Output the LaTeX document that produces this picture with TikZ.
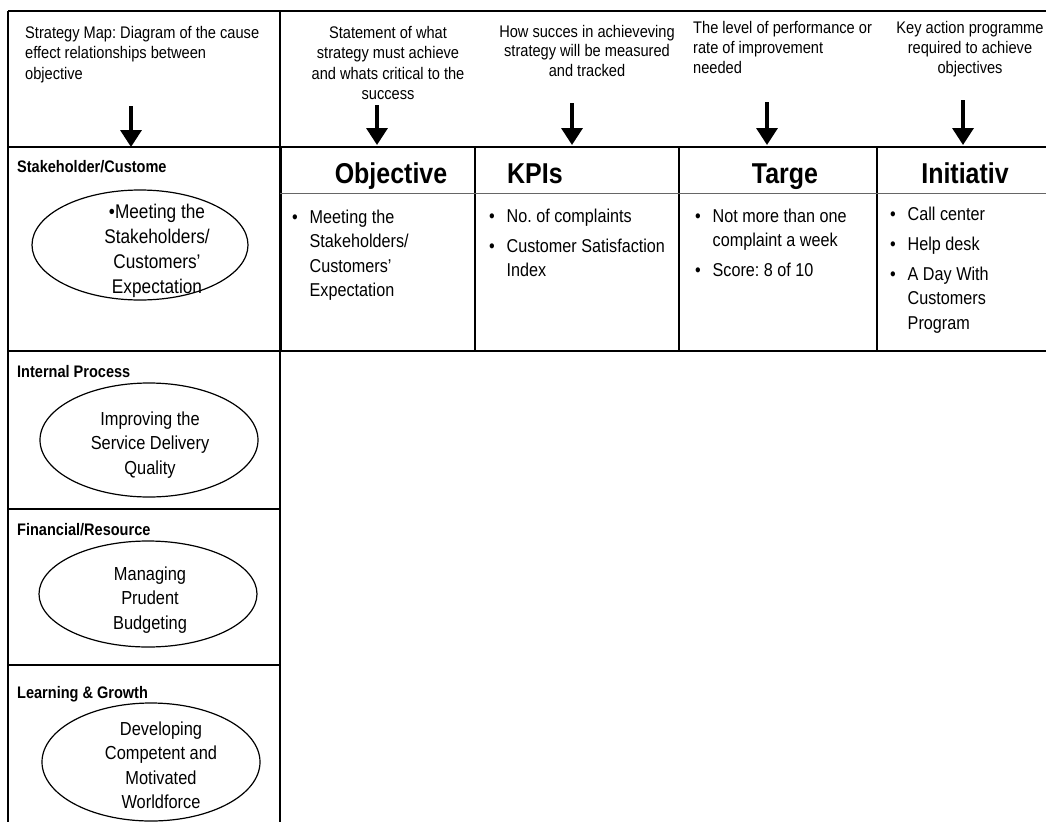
\documentclass[tikz,border=0pt]{standalone}
\usepackage{fontspec}
\setmainfont{Liberation Sans}[FakeStretch=0.87]
\usetikzlibrary{arrows.meta,shapes.geometric}
\frenchspacing
\newcommand{\hdrfont}{\fontsize{16.8}{20.5}\selectfont}
\newcommand{\bodyfont}{\fontsize{18.6}{24.5}\selectfont}
\newcommand{\ellfont}{\fontsize{18.85}{24.5}\selectfont}
\newcommand{\lblfont}{\bfseries\fontsize{16.7}{20}\selectfont}
\newcommand{\ttlfont}{\bfseries\fontsize{28.7}{30}\selectfont}
\newcommand{\bl}{\makebox[17.5pt][l]{•}}
\newcommand{\ltab}[1]{\begin{tabular}[t]{@{}l@{}}#1\end{tabular}}
\newcommand{\ctab}[1]{\begin{tabular}[t]{@{}c@{}}#1\end{tabular}}
\newcommand{\btab}[1]{\begin{tabular}[t]{@{}l@{}l@{}}#1\end{tabular}}
\begin{document}
\begin{tikzpicture}[x=1pt,y=-1pt,
  grid/.style={line width=1.6pt,black},
  thickgrid/.style={line width=3pt,black},
  sepline/.style={line width=0.9pt,black!60},
  ell/.style={ellipse,draw,line width=1.2pt,inner sep=0pt},
  hdr/.style={inner sep=0pt,font=\hdrfont},
  lbl/.style={inner sep=0pt,anchor=base west,font=\lblfont},
  ttl/.style={inner sep=0pt,anchor=base,font=\ttlfont},
  celltext/.style={inner sep=0pt,anchor=base west,font=\bodyfont},
  elltext/.style={inner sep=0pt,anchor=base,font=\ellfont},
  arr/.style={line width=3.5pt,-{Triangle[width=21pt,length=17pt]}}]
\useasboundingbox (0,0) rectangle (1046,822);
\fill[white] (0,0) rectangle (1046,822);

% grid lines
\draw[grid] (8,11) -- (1046,11);
\draw[grid] (8,11) -- (8,822);
\draw[grid] (280,11) -- (280,147);
\draw[grid] (8,147) -- (1046,147);
\draw[thickgrid] (280,147) -- (280,351);
\draw[grid] (280,351) -- (280,822);
\draw[grid] (8,351) -- (1046,351);
\draw[grid] (8,509) -- (280,509);
\draw[grid] (8,665) -- (280,665);
\draw[grid] (475,147) -- (475,351);
\draw[grid] (679,147) -- (679,351);
\draw[grid] (877,147) -- (877,351);
\draw[sepline] (280,193) -- (1046,193);

% header texts
\node[hdr,anchor=base west] (h0) at (25,38)
  {\ltab{Strategy Map: Diagram of the cause\\effect relationships between\\objective}};
\node[hdr,anchor=base] (h1) at (388,38)
  {\ctab{Statement of what\\strategy must achieve\\and whats critical to the\\success}};
\node[hdr,anchor=base,font=\fontsize{16.8}{19.5}\selectfont] (h2) at (587,37)
  {\ctab{How succes in achieveving\\strategy will be measured\\and tracked}};
\node[hdr,anchor=base west,font=\fontsize{16.8}{20}\selectfont] (h3) at (693,33)
  {\ltab{The level of performance or\\rate of improvement\\needed}};
\node[hdr,anchor=base,font=\fontsize{16.8}{20}\selectfont] (h4) at (970,33)
  {\ctab{Key action programme\\required to achieve\\objectives}};

% arrows
\coordinate (a0s) at (131,106); \coordinate (a0e) at (131,147);
\coordinate (a1s) at (377,105); \coordinate (a1e) at (377,145);
\coordinate (a2s) at (572,103); \coordinate (a2e) at (572,145);
\coordinate (a3s) at (767,102); \coordinate (a3e) at (767,145);
\coordinate (a4s) at (963,100); \coordinate (a4e) at (963,145);
\draw[arr] (a0s) -- (a0e);
\draw[arr] (a1s) -- (a1e);
\draw[arr] (a2s) -- (a2e);
\draw[arr] (a3s) -- (a3e);
\draw[arr] (a4s) -- (a4e);

% titles
\node[ttl] (t1) at (391,183) {Objective};
\node[ttl,anchor=base west] (t2) at (507,183) {KPIs};
\node[ttl] (t3) at (785,183) {Targe};
\node[ttl] (t4) at (965,183) {Initiativ};

% row labels
\node[lbl] (l1) at (17,172) {Stakeholder/Custome};
\node[lbl] (l2) at (17,377) {Internal Process};
\node[lbl] (l3) at (17,535) {Financial/Resource};
\node[lbl] (l4) at (17,698) {Learning \& Growth};

% ellipses
\node[ell,minimum width=216pt,minimum height=110pt] (e1) at (140,245) {};
\node[ell,minimum width=218pt,minimum height=114pt] (e2) at (149,440) {};
\node[ell,minimum width=218pt,minimum height=106pt] (e3) at (148,594) {};
\node[ell,minimum width=218pt,minimum height=118pt] (e4) at (151,762) {};
\node[elltext,font=\fontsize{19.8}{25}\selectfont] (e1t) at (157,218) {\ctab{•Meeting the\\Stakeholders/\\Customers'\\Expectation}};
\node[elltext] (e2t) at (150,425) {\ctab{Improving the\\Service Delivery\\Quality}};
\node[elltext] (e3t) at (150,580) {\ctab{Managing\\Prudent\\Budgeting}};
\node[elltext] (e4t) at (161,735) {\ctab{Developing\\Competent and\\Motivated\\Worldforce}};

% cell contents
\node[celltext] (c1) at (292,223) {\btab{\bl & Meeting the\\ & Stakeholders/\\ & Customers'\\ & Expectation}};
\node[celltext] (c2) at (489,222) {\btab{\bl & No. of complaints\\[5.5pt] \bl & Customer Satisfaction\\ & Index}};
\node[celltext] (c3) at (695,222) {\btab{\bl & Not more than one\\ & complaint a week\\[5.5pt] \bl & Score: 8 of 10}};
\node[celltext] (c4) at (890,220) {\btab{\bl & Call center\\[5.5pt] \bl & Help desk\\[5.5pt] \bl & A Day With\\ & Customers\\ & Program}};
\end{tikzpicture}
\end{document}
